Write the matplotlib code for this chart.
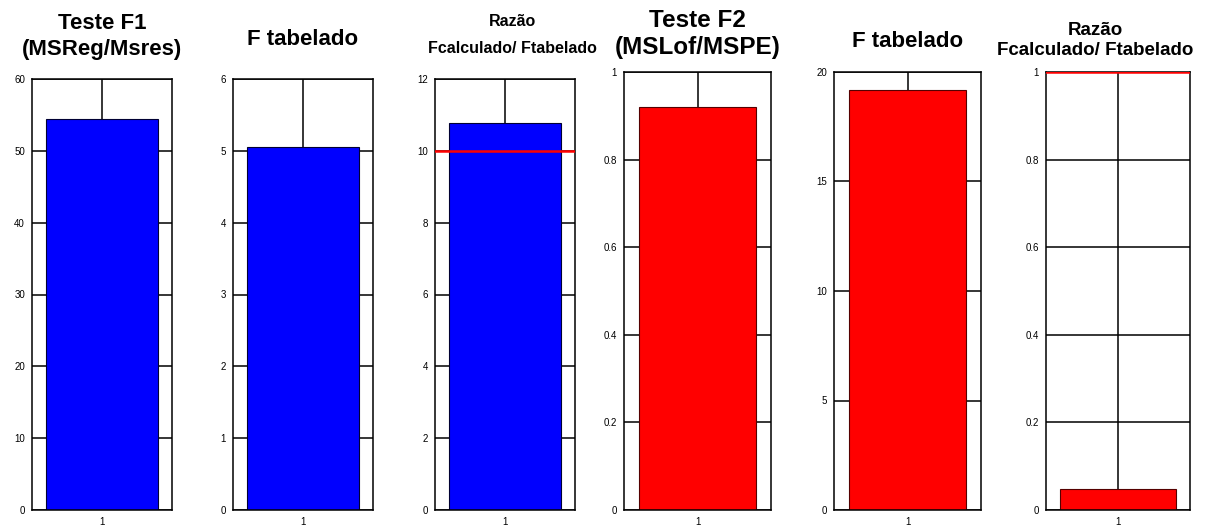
import matplotlib
matplotlib.use("Agg")
import matplotlib.pyplot as plt
from matplotlib.ticker import FuncFormatter

plt.rcParams['font.family'] = ['Liberation Sans', 'DejaVu Sans']

# ---- data ----
titles = ["Teste F1\n(MSReg/Msres)", "F tabelado", "Razão\nFcalculado/ Ftabelado",
          "Teste F2\n(MSLof/MSPE)", "F tabelado", "Razão\nFcalculado/ Ftabelado"]
values = [54.4, 5.05, 10.78, 0.92, 19.2, 0.049]
colors = ["#0000ff", "#0000ff", "#0000ff", "#ff0000", "#ff0000", "#ff0000"]
ylims = [60, 6, 12, 1, 20, 1]
ysteps = [10, 1, 2, 0.2, 5, 0.2]
ref_lines = [None, None, 10, None, None, 1]
categories = [1]

# ---- layout (pixels in 1206x530) ----
W, H = 1206, 530
boxes = [(32, 172, 79), (233, 373, 79), (435, 575, 79),
         (624, 771, 72), (834, 981, 72), (1046, 1190, 72)]
bottom_px = 510
title_sizes = [16, 16, 11.5, 17.5, 16, 13.5]
title_pads = [17, 24.5, 18.5, 13, 18, 12.2]
title_ls = [1.35, 1.0, 2.0, 1.22, 1.0, 1.2]
title_x = [0.5, 0.5, 0.55, 0.5, 0.5, 0.34]

fig = plt.figure(figsize=(W / 100, H / 100), dpi=100)

def fmt(v, pos):
    return ("%.1f" % v).rstrip('0').rstrip('.')

for i in range(6):
    l, r, t = boxes[i]
    ax = fig.add_axes([l / W, (H - bottom_px) / H, (r - l) / W, (bottom_px - t) / H])
    ax.set_axisbelow(True)
    ax.grid(True, color='black', linewidth=1.1, linestyle='-')
    edge = '#000033' if colors[i] == "#0000ff" else '#550000'
    ax.bar(categories, [values[i]], width=0.8, color=colors[i],
           edgecolor=edge, linewidth=0.8, zorder=2)
    if ref_lines[i] is not None:
        ax.axhline(ref_lines[i], color='#ff0000', linewidth=1.8, zorder=3)
    ax.set_xlim(0.5, 1.5)
    ax.set_ylim(0, ylims[i])
    n = int(round(ylims[i] / ysteps[i]))
    ax.set_yticks([k * ysteps[i] for k in range(n + 1)])
    ax.yaxis.set_major_formatter(FuncFormatter(fmt))
    ax.set_xticks(categories)
    ax.set_xticklabels([str(c) for c in categories])
    ax.tick_params(axis='both', direction='in', length=0, labelsize=7, colors='black')
    ax.tick_params(axis='y', pad=5)
    ax.tick_params(axis='x', pad=5)
    for sp in ax.spines.values():
        sp.set_color('black')
        sp.set_linewidth(1.1)
    ax.set_title(titles[i], fontsize=title_sizes[i], fontweight='bold', pad=title_pads[i],
                 linespacing=title_ls[i], x=title_x[i])

fig.savefig("out.png", dpi=100)
